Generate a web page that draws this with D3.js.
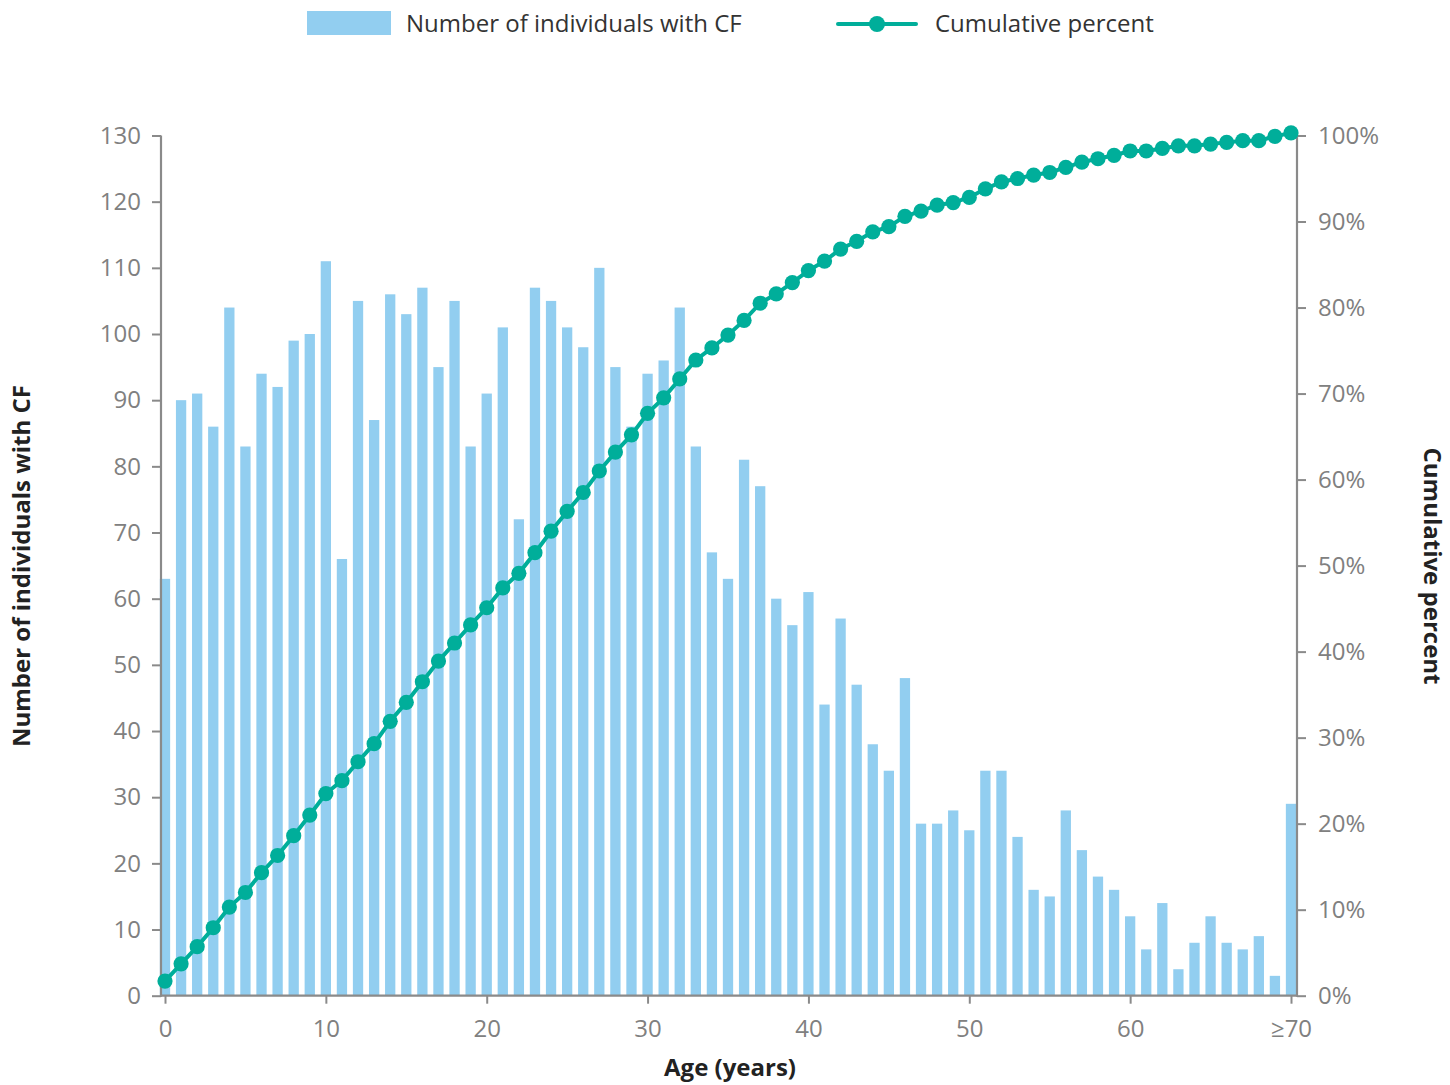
<!DOCTYPE html>
<html>
<head>
<meta charset="utf-8">
<script src="https://cdn.jsdelivr.net/npm/d3@7"></script>
<style>
  html, body { margin: 0; padding: 0; background: #fff; }
  svg { display: block; font-family: "Open Sans", "Noto Sans", sans-serif; }
</style>
</head>
<body>
<svg id="chart" width="1450" height="1085"></svg>
<script>
// ---- data ----
const ageLabels = ["0","1","2","3","4","5","6","7","8","9",
  "10","11","12","13","14","15","16","17","18","19",
  "20","21","22","23","24","25","26","27","28","29",
  "30","31","32","33","34","35","36","37","38","39",
  "40","41","42","43","44","45","46","47","48","49",
  "50","51","52","53","54","55","56","57","58","59",
  "60","61","62","63","64","65","66","67","68","69","≥70"];

const counts = [63, 90, 91, 86, 104, 83, 94, 92, 99, 100,
  111, 66, 105, 87, 106, 103, 107, 95, 105, 83,
  91, 101, 72, 107, 105, 101, 98, 110, 95, 86,
  94, 96, 104, 83, 67, 63, 81, 77, 60, 56,
  61, 44, 57, 47, 38, 34, 48, 26, 26, 28,
  25, 34, 34, 24, 16, 15, 28, 22, 18, 16,
  12, 7, 14, 4, 8, 12, 8, 7, 9, 3, 29];

const cumulativePct = [1.7, 3.7, 5.7, 7.9, 10.3, 12.0, 14.3, 16.3, 18.6, 21.0,
  23.5, 25.0, 27.2, 29.3, 31.9, 34.1, 36.5, 38.9, 41.0, 43.1,
  45.1, 47.4, 49.1, 51.5, 54.0, 56.3, 58.5, 61.0, 63.2, 65.2,
  67.7, 69.5, 71.7, 73.9, 75.3, 76.8, 78.5, 80.5, 81.6, 82.9,
  84.3, 85.4, 86.8, 87.7, 88.8, 89.4, 90.6, 91.2, 91.9, 92.2,
  92.8, 93.8, 94.6, 95.0, 95.4, 95.7, 96.3, 96.9, 97.3, 97.7,
  98.2, 98.2, 98.5, 98.8, 98.8, 99.0, 99.2, 99.4, 99.4, 99.9, 100.3];

const leftTicks = [0,10,20,30,40,50,60,70,80,90,100,110,120,130];
const rightTicks = [0,10,20,30,40,50,60,70,80,90,100];
const bottomTickLabels = ["0","10","20","30","40","50","60","≥70"];

const seriesNames = ["Number of individuals with CF", "Cumulative percent"];
const axisTitles = { x: "Age (years)", yLeft: "Number of individuals with CF", yRight: "Cumulative percent" };

// ---- layout ----
const plot = { left: 161, right: 1297, top: 135.5, bottom: 995.7 };
const barColor = "#92cef0";
const lineColor = "#00ae9a";
const axisColor = "#8a8a8a";
const tickTextColor = "#808080";
const fontSize = "24px";

const svg = d3.select("#chart");

const x = d3.scalePoint().domain(ageLabels).range([165, 1291]);
const barW = x.step() * 0.64;
const yL = d3.scaleLinear().domain([0, 130]).range([plot.bottom, plot.top]);
const yR = d3.scaleLinear().domain([0, 100]).range([plot.bottom, plot.top]);

// bars
svg.append("g").selectAll("rect")
  .data(counts)
  .join("rect")
  .attr("x", (d, i) => x(ageLabels[i]) - barW / 2)
  .attr("y", d => yL(d))
  .attr("width", barW)
  .attr("height", d => yL(0) - yL(d))
  .attr("fill", barColor);

// axes
function styleAxis(g) {
  g.select(".domain").remove();
  g.selectAll(".tick line").attr("stroke", axisColor).attr("stroke-width", 2);
  g.selectAll(".tick text").attr("fill", tickTextColor).style("font-size", fontSize)
    .style("font-family", "'Open Sans', 'Noto Sans', sans-serif");
}

const gL = svg.append("g").attr("transform", `translate(${plot.left},0)`)
  .call(d3.axisLeft(yL).tickValues(leftTicks).tickSize(9).tickPadding(11).tickSizeOuter(0));
styleAxis(gL);

const gR = svg.append("g").attr("transform", `translate(${plot.right},0)`)
  .call(d3.axisRight(yR).tickValues(rightTicks).tickFormat(d => d + "%").tickSize(9).tickPadding(12).tickSizeOuter(0));
styleAxis(gR);

const gB = svg.append("g").attr("transform", `translate(0,${plot.bottom})`)
  .call(d3.axisBottom(x).tickValues(bottomTickLabels).tickSize(8).tickPadding(16).tickSizeOuter(0));
styleAxis(gB);

// axis lines
svg.append("line").attr("x1", plot.left).attr("x2", plot.left).attr("y1", plot.top).attr("y2", plot.bottom + 1)
  .attr("stroke", axisColor).attr("stroke-width", 2.2);
svg.append("line").attr("x1", plot.right).attr("x2", plot.right).attr("y1", plot.top).attr("y2", plot.bottom + 1)
  .attr("stroke", axisColor).attr("stroke-width", 2.2);
svg.append("line").attr("x1", plot.left).attr("x2", plot.right).attr("y1", plot.bottom).attr("y2", plot.bottom)
  .attr("stroke", axisColor).attr("stroke-width", 2.2);

// cumulative line
const line = d3.line()
  .x((d, i) => x(ageLabels[i]))
  .y(d => yR(d));
svg.append("path").datum(cumulativePct)
  .attr("d", line)
  .attr("fill", "none")
  .attr("stroke", lineColor)
  .attr("stroke-width", 4);
svg.append("g").selectAll("circle")
  .data(cumulativePct)
  .join("circle")
  .attr("cx", (d, i) => x(ageLabels[i]))
  .attr("cy", d => yR(d))
  .attr("r", 7.6)
  .attr("fill", lineColor);

// axis titles
svg.append("text").attr("x", 730).attr("y", 1076).attr("text-anchor", "middle")
  .style("font-size", fontSize).style("font-weight", "bold").attr("fill", "#222")
  .text(axisTitles.x);
svg.append("text").attr("transform", "translate(30,566) rotate(-90)").attr("text-anchor", "middle")
  .style("font-size", fontSize).style("font-weight", "bold").attr("fill", "#222")
  .text(axisTitles.yRight === "" ? "" : axisTitles.yLeft);
svg.append("text").attr("transform", "translate(1424,566) rotate(90)").attr("text-anchor", "middle")
  .style("font-size", fontSize).style("font-weight", "bold").attr("fill", "#222")
  .text(axisTitles.yRight);

// legend
const lg = svg.append("g");
lg.append("rect").attr("x", 307).attr("y", 11).attr("width", 84).attr("height", 24).attr("fill", barColor);
lg.append("text").attr("x", 406).attr("y", 24).attr("dy", "0.35em")
  .style("font-size", fontSize).attr("fill", "#333").text(seriesNames[0]);
lg.append("line").attr("x1", 838).attr("x2", 916).attr("y1", 24).attr("y2", 24)
  .attr("stroke", lineColor).attr("stroke-width", 4).attr("stroke-linecap", "round");
lg.append("circle").attr("cx", 877).attr("cy", 24).attr("r", 8).attr("fill", lineColor);
lg.append("text").attr("x", 935).attr("y", 24).attr("dy", "0.35em")
  .style("font-size", fontSize).attr("fill", "#333").text(seriesNames[1]);
</script>
</body>
</html>
